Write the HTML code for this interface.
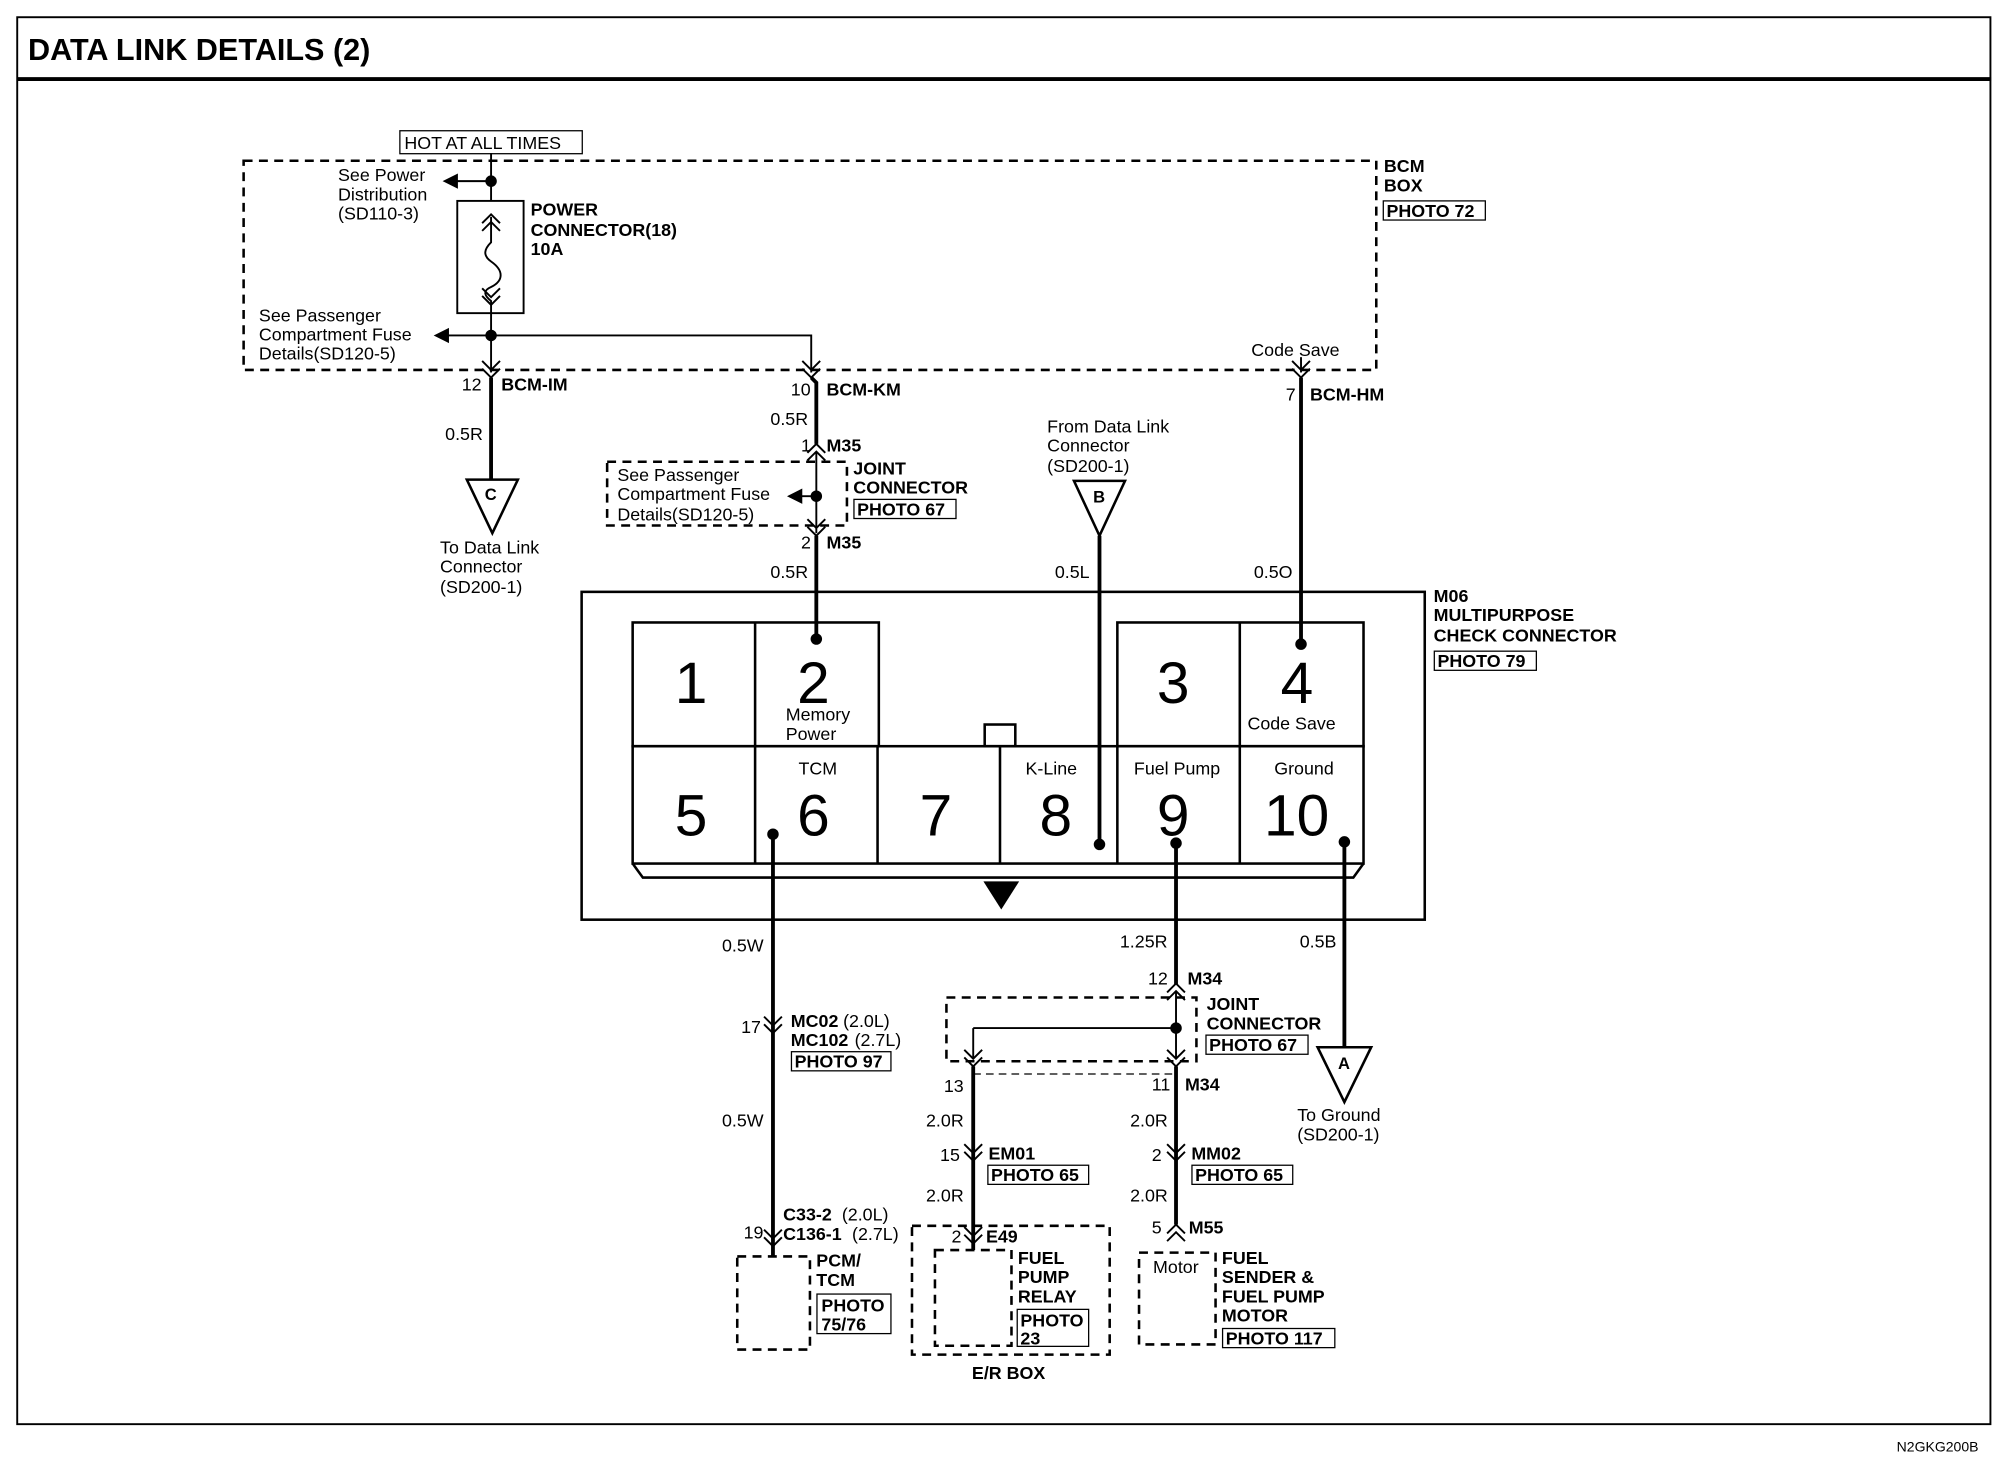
<!DOCTYPE html>
<html><head><meta charset="utf-8"><style>
html,body{margin:0;padding:0;background:#fff;}
svg{display:block;}
text{font-family:"Liberation Sans",Arial,sans-serif;fill:#000;font-size:14px;}
.b{font-weight:bold;}
.big{font-size:46px;}
</style></head><body>
<svg width="2000" height="1472" viewBox="0 0 1568 1154" preserveAspectRatio="none" xmlns="http://www.w3.org/2000/svg">
<defs>
<g id="dn"><path d="M-7,-9 L0,-2 L7,-9 M-7,-3 L0,4 L7,-3" fill="none" stroke="#000" stroke-width="1.5"/></g>
<g id="up"><path d="M-7,9 L0,2 L7,9 M-7,3 L0,-4 L7,3" fill="none" stroke="#000" stroke-width="1.5"/></g>
</defs>
<rect x="0" y="0" width="1568" height="1154" fill="#fff"/>
<!-- frame -->
<rect x="13.5" y="13.5" width="1547" height="1103" fill="none" stroke="#000" stroke-width="1.5"/>
<line x1="13" y1="62" x2="1561" y2="62" stroke="#000" stroke-width="3"/>
<text x="22" y="47" class="b" style="font-size:24px">DATA LINK DETAILS (2)</text>
<text x="1487" y="1138" style="font-size:11px">N2GKG200B</text>

<g fill="none" stroke="#000" stroke-width="2" stroke-dasharray="7,5">
<rect x="191" y="126" width="888" height="164"/>
<rect x="476" y="362" width="188" height="50"/>
<rect x="742" y="782" width="196" height="50"/>
<rect x="578" y="985" width="57" height="73"/>
<rect x="715" y="961" width="155" height="101"/>
<rect x="733" y="980" width="60" height="75"/>
<rect x="893" y="982" width="60" height="72"/>
</g>
<line x1="763" y1="842" x2="922" y2="842" stroke="#000" stroke-width="1" stroke-dasharray="6,4"/>

<!-- HOT AT ALL TIMES -->
<rect x="313.5" y="102.5" width="143" height="18" fill="none" stroke="#000"/>
<text x="317" y="117">HOT AT ALL TIMES</text>

<!-- thin internal wires -->
<g stroke="#000" stroke-width="1.5" fill="none">
<line x1="385" y1="120" x2="385" y2="157"/>
<line x1="385" y1="245" x2="385" y2="292"/>
<line x1="385" y1="142" x2="355" y2="142"/>
<line x1="385" y1="263" x2="348" y2="263"/>
<polyline points="385,263 636,263 636,292"/>
<line x1="1020" y1="280" x2="1020" y2="292"/>
<rect x="358.5" y="157.5" width="52" height="88"/>
<path d="M385,170 L385,190 C380,195 378,200 385,205 C395,212 395,220 385,225 C378,228 380,232 385,236 L385,245"/>
<line x1="763" y1="806" x2="922" y2="806"/>
<line x1="763" y1="806" x2="763" y2="830"/>
<line x1="922" y1="778" x2="922" y2="830"/>
<line x1="640" y1="355" x2="640" y2="418"/>
<line x1="640" y1="389" x2="625" y2="389"/>
</g>
<use href="#up" x="385" y="172"/><use href="#dn" x="385" y="235"/>
<polygon points="347,142 359,136 359,148"/>
<polygon points="340,263 352,257 352,269"/>
<polygon points="617,389 629,383 629,395"/>
<circle cx="385" cy="142" r="4.5"/><circle cx="385" cy="263" r="4.5"/>
<circle cx="640" cy="389" r="4.5"/><circle cx="922" cy="806" r="4.5"/>

<!-- connectors -->
<use href="#dn" x="385" y="292"/><use href="#dn" x="636" y="292"/><use href="#dn" x="1020" y="292"/>
<use href="#up" x="640" y="352"/><use href="#dn" x="640" y="416"/>
<use href="#dn" x="606" y="806"/><use href="#dn" x="606" y="973"/>
<use href="#up" x="922" y="775"/><use href="#dn" x="763" y="832"/><use href="#dn" x="922" y="832"/>
<use href="#dn" x="763" y="906"/><use href="#dn" x="922" y="906"/>
<use href="#dn" x="763" y="971"/><use href="#up" x="922" y="964"/>

<!-- thick wires -->
<g stroke="#000" stroke-width="3" fill="none">
<line x1="385" y1="296" x2="385" y2="376"/>
<polyline points="636,296 640,300 640,348"/>
<line x1="640" y1="420" x2="640" y2="501"/>
<line x1="1020" y1="296" x2="1020" y2="505"/>
<line x1="862" y1="420" x2="862" y2="662"/>
<line x1="606" y1="654" x2="606" y2="985"/>
<line x1="922" y1="661" x2="922" y2="772"/>
<line x1="922" y1="836" x2="922" y2="960"/>
<line x1="763" y1="836" x2="763" y2="980"/>
<line x1="1054" y1="660" x2="1054" y2="821"/>
</g>

<!-- triangles -->
<g fill="#fff" stroke="#000" stroke-width="2">
<polygon points="366,376 406,376 386,418"/>
<polygon points="842,377 882,377 862,420"/>
<polygon points="1033,821 1075,821 1054,864"/>
</g>
<text x="380" y="392" class="b" style="font-size:13px">C</text>
<text x="857" y="394" class="b" style="font-size:13px">B</text>
<text x="1049" y="838" class="b" style="font-size:13px">A</text>

<!-- main connector -->
<g fill="none" stroke="#000" stroke-width="2">
<rect x="456" y="464" width="661" height="257"/>
<rect x="496" y="488" width="193" height="97"/>
<rect x="876" y="488" width="193" height="97"/>
<rect x="496" y="585" width="573" height="92"/>
<line x1="592" y1="488" x2="592" y2="677"/>
<line x1="688" y1="585" x2="688" y2="677"/>
<line x1="784" y1="585" x2="784" y2="677"/>
<line x1="972" y1="488" x2="972" y2="677"/>
<line x1="876" y1="585" x2="876" y2="677"/>
<polyline points="496,677 504,688 1061,688 1069,677"/>
<rect x="772" y="568" width="24" height="17"/>
</g>
<polygon points="771,691 799,691 785,713"/>
<circle cx="640" cy="501" r="4.5"/><circle cx="1020" cy="505" r="4.5"/>
<circle cx="606" cy="654" r="4.5"/><circle cx="862" cy="662" r="4.5"/>
<circle cx="922" cy="661" r="4.5"/><circle cx="1054" cy="660" r="4.5"/>
<g class="big">
<text x="529" y="551" class="big">1</text><text x="625" y="551" class="big">2</text>
<text x="907" y="551" class="big">3</text><text x="1004" y="551" class="big">4</text>
<text x="529" y="655" class="big">5</text><text x="625" y="655" class="big">6</text>
<text x="721" y="655" class="big">7</text><text x="815" y="655" class="big">8</text>
<text x="907" y="655" class="big">9</text><text x="991" y="655" class="big">10</text>
</g>
<text x="616" y="565">Memory</text><text x="616" y="580">Power</text>
<text x="978" y="572">Code Save</text>
<text x="626" y="607">TCM</text><text x="804" y="607">K-Line</text>
<text x="889" y="607">Fuel Pump</text><text x="999" y="607">Ground</text>

<!-- labels -->
<text x="265" y="142">See Power</text><text x="265" y="157">Distribution</text><text x="265" y="172">(SD110-3)</text>
<text x="416" y="169" class="b">POWER</text><text x="416" y="185" class="b">CONNECTOR(18)</text><text x="416" y="200" class="b">10A</text>
<text x="203" y="252">See Passenger</text><text x="203" y="267">Compartment Fuse</text><text x="203" y="282">Details(SD120-5)</text>
<text x="981" y="279">Code Save</text>
<text x="1085" y="135" class="b">BCM</text><text x="1085" y="150" class="b">BOX</text>
<rect x="1084.5" y="157.5" width="80" height="15" fill="none" stroke="#000"/><text x="1087" y="170" class="b">PHOTO 72</text>
<text x="362" y="306">12</text><text x="393" y="306" class="b">BCM-IM</text>
<text x="620" y="310">10</text><text x="648" y="310" class="b">BCM-KM</text>
<text x="1008" y="314">7</text><text x="1027" y="314" class="b">BCM-HM</text>
<text x="349" y="345">0.5R</text>
<text x="345" y="434">To Data Link</text><text x="345" y="449">Connector</text><text x="345" y="465">(SD200-1)</text>
<text x="604" y="333">0.5R</text>
<text x="628" y="354">1</text><text x="648" y="354" class="b">M35</text>
<text x="484" y="377">See Passenger</text><text x="484" y="392">Compartment Fuse</text><text x="484" y="408">Details(SD120-5)</text>
<text x="669" y="372" class="b">JOINT</text><text x="669" y="387" class="b">CONNECTOR</text>
<rect x="669.5" y="391.5" width="80" height="15" fill="none" stroke="#000"/><text x="672" y="404" class="b">PHOTO 67</text>
<text x="628" y="430">2</text><text x="648" y="430" class="b">M35</text>
<text x="604" y="453">0.5R</text>
<text x="821" y="339">From Data Link</text><text x="821" y="354">Connector</text><text x="821" y="370">(SD200-1)</text>
<text x="827" y="453">0.5L</text><text x="983" y="453">0.5O</text>
<text x="1124" y="472" class="b">M06</text><text x="1124" y="487" class="b">MULTIPURPOSE</text><text x="1124" y="503" class="b">CHECK CONNECTOR</text>
<rect x="1124.5" y="510.5" width="80" height="15" fill="none" stroke="#000"/><text x="1127" y="523" class="b">PHOTO 79</text>

<text x="566" y="746">0.5W</text><text x="878" y="743">1.25R</text><text x="1019" y="743">0.5B</text>
<text x="581" y="810">17</text><text x="620" y="805" class="b">MC02</text><text x="661" y="805">(2.0L)</text>
<text x="620" y="820" class="b">MC102</text><text x="670" y="820">(2.7L)</text>
<rect x="620.5" y="824.5" width="78" height="15" fill="none" stroke="#000"/><text x="623" y="837" class="b">PHOTO 97</text>
<text x="566" y="883">0.5W</text>
<text x="583" y="971">19</text><text x="614" y="957" class="b">C33-2</text><text x="660" y="957">(2.0L)</text>
<text x="614" y="972" class="b">C136-1</text><text x="668" y="972">(2.7L)</text>
<text x="640" y="993" class="b">PCM/</text><text x="640" y="1008" class="b">TCM</text>
<rect x="640.5" y="1014.5" width="58" height="31" fill="none" stroke="#000"/><text x="644" y="1028" class="b">PHOTO</text><text x="644" y="1043" class="b">75/76</text>
<text x="900" y="772">12</text><text x="931" y="772" class="b">M34</text>
<text x="946" y="792" class="b">JOINT</text><text x="946" y="807" class="b">CONNECTOR</text>
<rect x="945.5" y="811.5" width="80" height="15" fill="none" stroke="#000"/><text x="948" y="824" class="b">PHOTO 67</text>
<text x="740" y="856">13</text><text x="903" y="855">11</text><text x="929" y="855" class="b">M34</text>
<text x="1017" y="879">To Ground</text><text x="1017" y="894">(SD200-1)</text>
<text x="726" y="883">2.0R</text><text x="886" y="883">2.0R</text>
<text x="737" y="910">15</text><text x="775" y="909" class="b">EM01</text>
<rect x="774.5" y="913.5" width="79" height="15" fill="none" stroke="#000"/><text x="777" y="926" class="b">PHOTO 65</text>
<text x="903" y="910">2</text><text x="934" y="909" class="b">MM02</text>
<rect x="934.5" y="913.5" width="79" height="15" fill="none" stroke="#000"/><text x="937" y="926" class="b">PHOTO 65</text>
<text x="726" y="942">2.0R</text><text x="886" y="942">2.0R</text>
<text x="746" y="974">2</text><text x="773" y="974" class="b">E49</text>
<text x="903" y="967">5</text><text x="932" y="967" class="b">M55</text>
<text x="798" y="991" class="b">FUEL</text><text x="798" y="1006" class="b">PUMP</text><text x="798" y="1021" class="b">RELAY</text>
<rect x="797.5" y="1026.5" width="56" height="29" fill="none" stroke="#000"/><text x="800" y="1040" class="b">PHOTO</text><text x="800" y="1054" class="b">23</text>
<text x="762" y="1081" class="b">E/R BOX</text>
<text x="904" y="998">Motor</text>
<text x="958" y="991" class="b">FUEL</text><text x="958" y="1006" class="b">SENDER &amp;</text><text x="958" y="1021" class="b">FUEL PUMP</text><text x="958" y="1036" class="b">MOTOR</text>
<rect x="958.5" y="1041.5" width="88" height="15" fill="none" stroke="#000"/><text x="961" y="1054" class="b">PHOTO 117</text>
</svg>
</body></html>
